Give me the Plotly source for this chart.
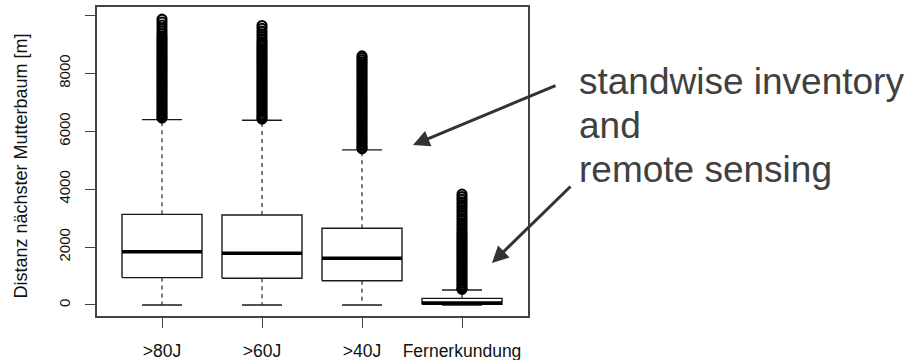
import plotly.graph_objects as go

# Groups (tree-age thresholds of the stand inventory, plus remote sensing)
groups = [">80J", ">60J", ">40J", "Fernerkundung"]

# Five-number summaries per group [m]
q1 = [945, 922, 839, 20]
median = [1840, 1785, 1612, 70]
q3 = [3130, 3107, 2648, 230]
lower_whisker = [0, 0, 0, 0]
upper_whisker = [6400, 6380, 5355, 520]

# Points beyond the upper whisker [m]
outliers_80 = [9870, 9770, 9665, 9560, 9460, 9365, 9280,
               9210, 9140, 9075, 9000, 8935, 8870, 8800, 8730, 8665, 8600,
               8530, 8460, 8395, 8330, 8260, 8190, 8125, 8060, 7990, 7920,
               7855, 7790, 7720, 7650, 7585, 7520, 7450, 7380, 7315, 7250,
               7180, 7110, 7045, 6980, 6910, 6840, 6775, 6710, 6640, 6575,
               6505, 6450]
outliers_60 = [9650, 9555, 9455, 9360, 9265, 9170, 9085,
               9015, 8950, 8880, 8815, 8745, 8680, 8610, 8545, 8475, 8410,
               8340, 8275, 8205, 8140, 8070, 8005, 7935, 7870, 7800, 7735,
               7665, 7600, 7530, 7465, 7395, 7330, 7260, 7195, 7125, 7060,
               6990, 6925, 6855, 6790, 6720, 6655, 6585, 6520, 6460, 6415]
outliers_40 = [8600, 8535, 8470, 8400, 8335, 8265, 8200, 8130, 8065, 7995,
               7930, 7860, 7795, 7725, 7660, 7590, 7525, 7455, 7390, 7320,
               7255, 7185, 7120, 7050, 6985, 6915, 6850, 6780, 6715, 6645,
               6580, 6510, 6445, 6375, 6310, 6240, 6175, 6105, 6040, 5970,
               5905, 5835, 5770, 5700, 5635, 5565, 5500, 5430, 5390]
outliers_fe = [3830, 3740, 3650, 3560, 3470, 3380, 3290, 3200, 3110, 3020,
               2930, 2840, 2750, 2660, 2580, 2500,
               2430, 2365, 2300, 2230, 2165, 2095, 2030, 1960, 1895, 1825,
               1760, 1690, 1625, 1555, 1490, 1420, 1355, 1285, 1220, 1150,
               1085, 1015, 950, 880, 815, 745, 680, 610, 560, 540]
outliers = [outliers_80, outliers_60, outliers_40, outliers_fe]

y_ticks = [0, 2000, 4000, 6000, 8000, 10000]
y_tick_labels = ["0", "2000", "4000", "6000", "8000", ""]

FONT = "Liberation Sans, Arial, sans-serif"
INK = "#1a1a1a"
BOX_HALF = 0.4
CAP_HALF = 0.2

fig = go.Figure()

for i, name in enumerate(groups):
    x0 = i + 1
    line = dict(color=INK, width=1.4)
    # box
    fig.add_trace(go.Scatter(
        x=[x0 - BOX_HALF, x0 + BOX_HALF, x0 + BOX_HALF, x0 - BOX_HALF, x0 - BOX_HALF],
        y=[q1[i], q1[i], q3[i], q3[i], q1[i]],
        mode="lines", line=line, fill="toself", fillcolor="white",
        hoverinfo="skip", showlegend=False))
    # dashed whiskers
    fig.add_trace(go.Scatter(
        x=[x0, x0, None, x0, x0],
        y=[q3[i], upper_whisker[i], None, q1[i], lower_whisker[i]],
        mode="lines", line=dict(color="#333333", width=1.3, dash="4px,4px"),
        hoverinfo="skip", showlegend=False))
    # whisker caps
    fig.add_trace(go.Scatter(
        x=[x0 - CAP_HALF, x0 + CAP_HALF, None, x0 - CAP_HALF, x0 + CAP_HALF],
        y=[upper_whisker[i], upper_whisker[i], None, lower_whisker[i], lower_whisker[i]],
        mode="lines", line=line, hoverinfo="skip", showlegend=False))
    # median
    fig.add_trace(go.Scatter(
        x=[x0 - BOX_HALF, x0 + BOX_HALF], y=[median[i], median[i]],
        mode="lines", line=dict(color="#000000", width=3.5),
        hoverinfo="skip", showlegend=False))
    # outliers
    fig.add_trace(go.Scatter(
        x=[x0] * len(outliers[i]), y=outliers[i], mode="markers",
        marker=dict(symbol="circle-open", size=9, color="#000000",
                    line=dict(width=2.1, color="#000000")),
        name=name, showlegend=False))

axis_common = dict(showline=True, mirror=True, linecolor="#444444", linewidth=1.5,
                   showgrid=False, zeroline=False, ticks="outside", ticklen=10,
                   tickwidth=1.3, tickcolor="#444444", automargin=False)

fig.update_xaxes(range=[0.35, 4.66], tickvals=[1, 2, 3, 4], ticktext=groups,
                 tickfont=dict(family=FONT, size=17.5, color="#111111"),
                 ticklabelstandoff=8, **axis_common)
fig.update_yaxes(range=[-380, 10289], tickvals=y_ticks, ticktext=y_tick_labels,
                 tickangle=-90,
                 tickfont=dict(family=FONT, size=15, color="#111111"),
                 ticklabelstandoff=9, **axis_common)

text_font = dict(family=FONT, size=37, color="#404040")
annotations = [
    dict(text="Distanz nächster Mutterbaum [m]", textangle=-90,
         xref="paper", yref="paper", x=0, y=0.5, xshift=-77, yshift=-5,
         xanchor="center", yanchor="middle", showarrow=False,
         font=dict(family=FONT, size=18, color="#111111")),
    dict(text="standwise inventory", xref="paper", yref="paper",
         x=1.1137, y=1.0, yshift=-74, xanchor="left", yanchor="middle",
         showarrow=False, font=text_font),
    dict(text="and", xref="paper", yref="paper",
         x=1.1137, y=1.0, yshift=-118, xanchor="left", yanchor="middle",
         showarrow=False, font=text_font),
    dict(text="remote sensing", xref="paper", yref="paper",
         x=1.1137, y=1.0, yshift=-162, xanchor="left", yanchor="middle",
         showarrow=False, font=text_font),
    dict(x=3.51, y=5524, xref="x", yref="y", ax=144, ay=-60, text="",
         showarrow=True, arrowhead=2, arrowsize=1.1, arrowwidth=3,
         arrowcolor="#333333"),
    dict(x=4.30, y=1450, xref="x", yref="y", ax=80, ay=-78, text="",
         showarrow=True, arrowhead=2, arrowsize=1.1, arrowwidth=3,
         arrowcolor="#333333"),
]

fig.update_layout(width=905, height=360,
                  margin=dict(l=97, r=377, t=7, b=44, pad=0),
                  plot_bgcolor="white", paper_bgcolor="white",
                  annotations=annotations, showlegend=False)

fig.write_html("out.html")
